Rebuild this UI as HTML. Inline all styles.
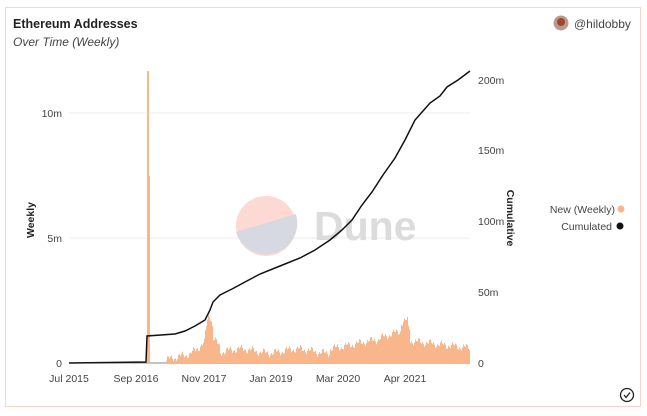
<!DOCTYPE html>
<html><head><meta charset="utf-8"><style>
body{margin:0;background:#fff;width:647px;height:416px;overflow:hidden;font-family:"Liberation Sans",sans-serif;}
.card{position:absolute;left:5px;top:7px;width:636px;height:400px;border:1px solid #f8d4cc;box-sizing:border-box;}
</style></head><body>
<div class="card"></div>
<svg width="647" height="416" style="position:absolute;left:0;top:0" font-family="Liberation Sans, sans-serif">
<text x="13" y="28" font-size="12.5" font-weight="bold" fill="#222">Ethereum Addresses</text>
<text x="13" y="46" font-size="12" font-style="italic" fill="#444">Over Time (Weekly)</text>
<circle cx="561" cy="23" r="7.5" fill="#b89a90"/><circle cx="561" cy="22" r="4" fill="#a0462c"/>
<text x="574" y="28" font-size="12" fill="#444">@hildobby</text>
<line x1="69" y1="113" x2="470" y2="113" stroke="#eee"/>
<line x1="69" y1="238" x2="470" y2="238" stroke="#eee"/>
<circle cx="266" cy="226" r="30" fill="#fcd9d2"/>
<path d="M236 232 L296 214 A30 30 0 0 1 236 232 Z" fill="#d6d9e2"/>
<text x="314" y="240" font-size="41" font-weight="bold" fill="#dcdcdc">Dune</text>
<line x1="69" y1="363" x2="470" y2="363" stroke="#888"/>
<g id="bars" fill="#f9b68a"></g>
<rect x="147" y="71" width="2" height="292" fill="#f9b68a"/>
<rect x="149" y="176" width="1" height="187" fill="#f9b68a"/>
<polyline fill="none" stroke="#111" stroke-width="1.5" points="69,363 146,362 147,336 175,334 185,331 195,326 205,320 210,310 213,302 220,295 232,289 245,282 260,274 280,266 300,258 315,250 330,240 342,230 352,220 362,205 372,192 383,175 395,158 405,140 415,120 423,111 430,103 440,96 447,87 458,80 470,71"/>
<g font-size="10.5" fill="#444">
<text x="62" y="117" text-anchor="end">10m</text>
<text x="62" y="242" text-anchor="end">5m</text>
<text x="62" y="367" text-anchor="end">0</text>
<text x="478" y="84">200m</text>
<text x="478" y="154">150m</text>
<text x="478" y="225">100m</text>
<text x="478" y="296">50m</text>
<text x="478" y="367">0</text>
<text x="69" y="382" text-anchor="middle">Jul 2015</text>
<text x="136" y="382" text-anchor="middle">Sep 2016</text>
<text x="204" y="382" text-anchor="middle">Nov 2017</text>
<text x="271" y="382" text-anchor="middle">Jan 2019</text>
<text x="338" y="382" text-anchor="middle">Mar 2020</text>
<text x="405" y="382" text-anchor="middle">Apr 2021</text>
<text x="615" y="213" text-anchor="end">New (Weekly)</text>
<text x="612" y="230" text-anchor="end">Cumulated</text>
</g>
<circle cx="621" cy="209" r="3.5" fill="#f9b68a"/>
<circle cx="620" cy="226" r="3.5" fill="#111"/>
<text transform="translate(34,220) rotate(-90)" font-size="10.5" font-weight="bold" fill="#222" text-anchor="middle">Weekly</text>
<text transform="translate(507,218) rotate(90)" font-size="10.5" font-weight="bold" fill="#222" text-anchor="middle">Cumulative</text>
<circle cx="627" cy="395" r="6.5" fill="none" stroke="#222" stroke-width="1.3"/>
<path d="M624 395 l2 2.5 l4 -5" fill="none" stroke="#222" stroke-width="1.3"/>
</svg>
<script>
var g=document.getElementById('bars'),s='';
function base(x){
 if(x<190)return 3+(x-165)*0.25;
 if(x<205)return 9+(x-190)*0.8;
 if(x<213){return 30+18*Math.sin((x-205)/8*Math.PI);}
 if(x<220)return 25-(x-213)*1.5;
 if(x<330)return 12+2*Math.sin(x/9);
 if(x<380)return 14+(x-330)*0.2;
 if(x<410)return 25+(x-380)*0.35+(x>400&&x<408?8:0);
 return 22-(x-410)*0.12;
}
for(var x=165;x<470;x++){
 var h=base(x)+Math.sin(x*1.7)*2+Math.sin(x*0.53)*2.5;
 if(h<1)h=1;
 s+='<rect x="'+x+'" y="'+(363-h).toFixed(1)+'" width="1" height="'+h.toFixed(1)+'"/>';
}
g.innerHTML=s;
</script>
</body></html>
